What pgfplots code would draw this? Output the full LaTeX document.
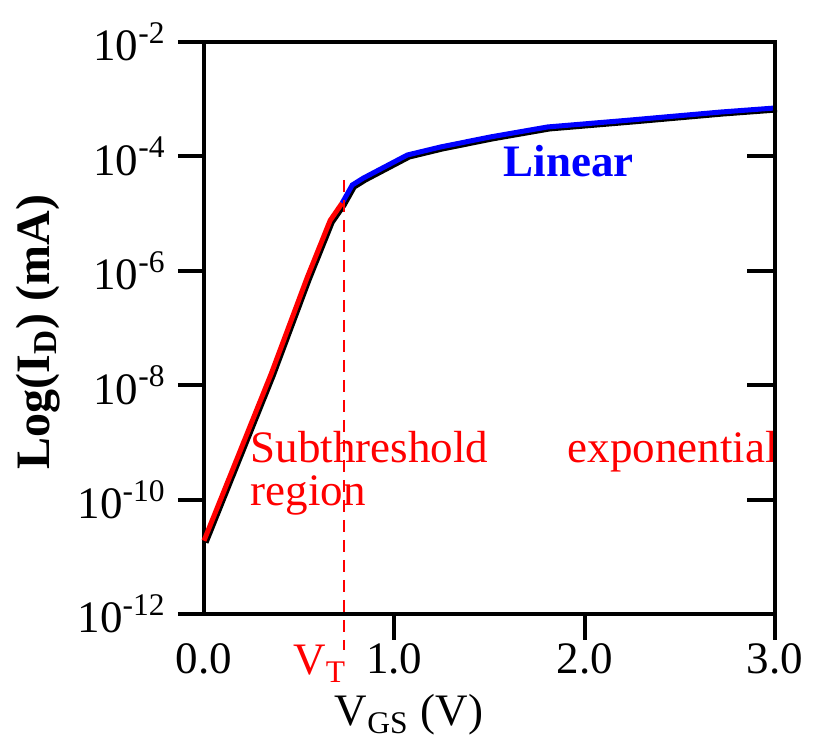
\documentclass[border=0pt]{standalone}
\usepackage{fontspec}
\setmainfont{Liberation Serif}
\usepackage{pgfplots}
\pgfplotsset{compat=1.18}
\usetikzlibrary{calc}

% 1 px of the reference = 0.3pt
\begin{document}
\begin{tikzpicture}[txt/.style={anchor=base west, inner sep=0pt, font=\fontsize{13.5}{16}\selectfont}]
\begin{axis}[
  name=main,
  scale only axis, width=171.3pt, height=171.6pt,
  xmin=0, xmax=3, ymin=1e-12, ymax=1e-2,
  ymode=log,
  clip=false,
  axis line style={line width=1.2pt},
  every tick/.style={black, line width=1.2pt},
  tick align=outside, major tick length=7.8pt,
  xtick pos=bottom, ytick pos=left,
  xtick={1,2,3}, xticklabels={1.0,2.0,3.0},
  extra x ticks={0}, extra x tick labels={0.0},
  extra x tick style={major tick style={draw=none}},
  ytick={1e-12,1e-10,1e-8,1e-6,1e-4,1e-2},
  yticklabels={10\textsuperscript{-12},10\textsuperscript{-10},10\textsuperscript{-8},10\textsuperscript{-6},10\textsuperscript{-4},10\textsuperscript{-2}},
  yminorticks=false,
  tick label style={font=\fontsize{13.5}{16}\selectfont},
  xticklabel style={yshift=2.5pt},
  xlabel={V\textsubscript{GS} (V)},
  xlabel style={at={(axis description cs:0,0)}, anchor=base, xshift=61.5pt, yshift=-33.6pt, font=\fontsize{13.5}{16}\selectfont},
  ylabel={\textbf{Log(I\textsubscript{D}) (mA)}},
  ylabel style={at={(axis description cs:-0.29,0.493)}, anchor=center, font=\fontsize{14.4}{17}\selectfont},
]
% dark trace under the coloured overlay
\addplot[black, line width=1.5pt, shift={(0.6pt,-0.6pt)}] coordinates {
  (0,1.91e-11) (0.353,1.58e-8) (0.542,7.59e-7) (0.663,7.6e-6) (0.726,1.53e-5)
  (0.779,3.16e-5) (0.837,4.17e-5) (1.068,1.057e-4) (1.242,1.459e-4) (1.505,2.19e-4)
  (1.805,3.27e-4) (2.242,4.33e-4) (2.716,5.97e-4) (3.0,7.02e-4)
};
% subthreshold region
\addplot[red, line width=1.5pt] coordinates {
  (0,1.91e-11) (0.353,1.58e-8) (0.542,7.59e-7) (0.663,7.6e-6) (0.726,1.53e-5)
};
% linear region
\addplot[blue, line width=1.5pt] coordinates {
  (0.726,1.53e-5) (0.779,3.16e-5) (0.837,4.17e-5) (1.068,1.057e-4) (1.242,1.459e-4)
  (1.505,2.19e-4) (1.805,3.27e-4) (2.242,4.33e-4) (2.716,5.97e-4) (3.0,7.02e-4)
};
% threshold voltage marker
\addplot[red, line width=0.6pt, dash pattern=on 3.6pt off 2.4pt] coordinates {(0.737,3.9e-5) (0.737,2.35e-13)};

\node[txt, red] at (axis cs:0.242,4.54e-10) {Subthreshold};
\node[txt, red] at (axis cs:0.242,7.76e-11) {region};
\node[txt, red] at (axis cs:1.907,4.54e-10) {exponential};
\node[txt, blue, font=\bfseries\fontsize{13.5}{16}\selectfont] at (axis cs:1.571,4.37e-5) {Linear};
\node[anchor=base, red, inner sep=0pt, yshift=-18.3pt, font=\fontsize{13.5}{16}\selectfont] at (axis cs:0.61,1e-12) {V\textsubscript{T}};
\end{axis}

% inward ticks on the right-hand side
\begin{axis}[
  scale only axis, width=171.3pt, height=171.6pt,
  xmin=0, xmax=3, ymin=1e-12, ymax=1e-2,
  ymode=log,
  hide x axis,
  axis y line*=right,
  axis line style={line width=1.2pt},
  every tick/.style={black, line width=1.2pt},
  tick align=inside, major tick length=8.4pt,
  ytick={1e-10,1e-8,1e-6,1e-4}, yticklabels={},
  yminorticks=false,
]
\end{axis}

\pgfresetboundingbox
\path[use as bounding box] ($(main.south west)+(-61.2pt,-37.2pt)$) rectangle ($(main.north east)+(11.4pt,12.6pt)$);
\end{tikzpicture}
\end{document}
